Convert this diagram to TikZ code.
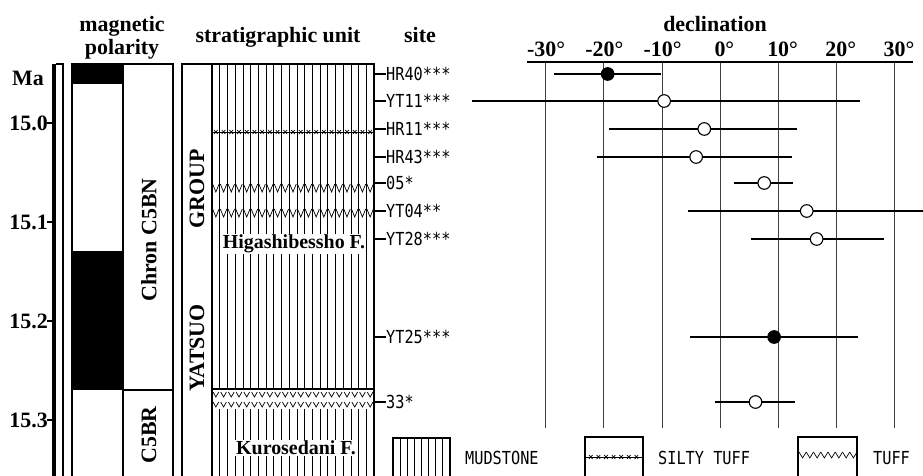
\documentclass[tikz,border=0pt]{standalone}
\usepackage{fontspec}
\setmainfont{Liberation Serif}
\newfontfamily\sitefont[FakeStretch=0.85]{DejaVu Sans Mono}
\usetikzlibrary{calc}
\def\decx#1{720+5.82*(#1)}
\def\mudx#1{212+7.714*(#1)}
\tikzset{
	lbl/.style={font=\bfseries\fontsize{22}{24}\selectfont, inner sep=0pt},
	unitlbl/.style={font=\bfseries\fontsize{20}{22}\selectfont, fill=white, inner sep=1bp},
	site/.style={font=\sitefont\fontsize{18}{20}\selectfont, anchor=west, inner sep=0pt},
	frame/.style={line width=1.2bp},
	gridline/.style={line width=0.6bp, color=black!75},
	bar/.style={line width=1.1bp},
	pat/.style={line width=0.7bp},
}

\begin{document}
\begin{tikzpicture}[x=1bp, y=-1bp]
			%%%%% START %%%%%
			\useasboundingbox (0, 0) rectangle (923, 476);
			
			% headings
			\node[lbl, anchor=base] (magn) at (122, 32) {magnetic};
			\node[lbl, anchor=base] (pola) at (122, 55) {polarity};
			\node[lbl, anchor=base] (strat) at (278, 43) {stratigraphic unit};
			\node[lbl, anchor=base] (site) at (420, 43) {site};
			\node[lbl, anchor=base] (decl) at (715, 32) {declination};
			
			% age scale
			\fill (52, 64) rectangle (56, 476);
			\draw[frame] (56, 64) -- (63, 64) -- (63, 477);
			\node[lbl, anchor=east] (ma) at (44, 78) {Ma};
			\foreach \a/\y in {15.0/123, 15.1/222, 15.2/321, 15.3/420} {
				\draw[line width=1.5bp] (47, \y) -- (53, \y);
				\node[lbl, anchor=east] (age\y) at (48, \y) {\a};
			}
			
			% magnetic polarity
			\draw[frame] (72, 477) -- (72, 64) -- (173, 64) -- (173, 477);
			\draw[frame] (123, 64) -- (123, 477);
			\fill (72, 64) rectangle (123, 84);
			\fill (72, 251) rectangle (123, 390);
			\draw[frame] (123, 390) -- (173, 390);
			\node[lbl, rotate=90] (c5bn) at (149, 240) {Chron C5BN};
			\node[lbl, rotate=90] (c5br) at (149, 435) {C5BR};
			
			% stratigraphic column
			\foreach \i in {1,...,20} {
				\draw[pat] ({\mudx{\i}}, 64) -- ({\mudx{\i}}, 389);
				\draw[pat] ({\mudx{\i}}, 409) -- ({\mudx{\i}}, 477);
			}
			\draw[pat] (212, 132) -- (374, 132);
			\foreach \i in {0,...,20} {
				\draw[pat] ({\mudx{\i+0.5}-1.8}, 130) -- ({\mudx{\i+0.5}+1.8}, 134);
				\draw[pat] ({\mudx{\i+0.5}-1.8}, 134) -- ({\mudx{\i+0.5}+1.8}, 130);
				\draw[pat] ({\mudx{\i}+0.6}, 184) -- ({\mudx{\i+0.5}}, 192) -- ({\mudx{\i+1}-0.6}, 184);
				\draw[pat] ({\mudx{\i}+0.6}, 209) -- ({\mudx{\i+0.5}}, 217) -- ({\mudx{\i+1}-0.6}, 209);
				\draw[pat] ({\mudx{\i}+1}, 392) -- ({\mudx{\i+0.5}}, 397) -- ({\mudx{\i+1}-1}, 392);
				\draw[pat] ({\mudx{\i}+1}, 402) -- ({\mudx{\i+0.5}}, 407) -- ({\mudx{\i+1}-1}, 402);
			}
			\draw[frame] (212, 389) -- (374, 389);
			\draw[frame] (182, 477) -- (182, 64) -- (374, 64) -- (374, 477);
			\draw[frame] (212, 64) -- (212, 477);
			\node[lbl, rotate=90] (grp) at (197, 189) {GROUP};
			\node[lbl, rotate=90] (yat) at (197, 348) {YATSUO};
			\node[unitlbl] (higa) at (294, 244) {Higashibessho F.};
			\node[unitlbl] (kuro) at (296, 448) {Kurosedani F.};
			
			% declination axis
			\foreach \d in {-30,-20,...,30}
				\draw[gridline] ({\decx{\d}}, 62) -- ({\decx{\d}}, 428);
			\draw[line width=2bp] (527, 62) -- (913, 62);
			\foreach \d/\t in {-30/{\llap{-}30}, -20/{\llap{-}20}, -10/{\llap{-}10}, 0/0, 10/10, 20/20, 30/30}
				\node[lbl, anchor=base] (tick\d) at ({\decx{\d}}, 57) {\t\rlap{\textdegree}};
			
			% sites and directions
			\foreach \n/\y/\d/\lo/\hi/\f in {HR40***/74/-19.3/-28.5/-10.1/black, YT11***/101/-9.6/-42.6/24/white,
					HR11***/129/-2.7/-19/13.2/white, HR43***/157/-4.1/-21.1/12.4/white, 05*/183/7.6/2.4/12.5/white,
					YT04**/211/14.9/-5.5/36/white, YT28***/239/16.6/5.3/28.2/white, YT25***/337/9.3/-5.1/23.7/black,
					33*/402/6.1/-0.9/12.9/white} {
				\draw[frame] (374, \y) -- (386, \y);
				\node[site] (s\y) at (386, \y) {\n};
				\draw[bar] ({\decx{\lo}}, \y) -- ({\decx{\hi}}, \y);
				\draw[bar, fill=\f] ({\decx{\d}}, \y) circle (6.3bp);
			}
			
			% legend
			\draw[frame] (393, 477) -- (393, 438) -- (450, 438) -- (450, 477);
			\foreach \k in {1,...,7}
				\draw[pat] ({393+7.1*\k}, 438) -- ({393+7.1*\k}, 477);
			\node[site] (mud) at (465, 458) {MUDSTONE};
			
			\draw[frame] (585, 477) -- (585, 437) -- (643, 437) -- (643, 477);
			\draw[pat] (585, 457) -- (643, 457);
			\foreach \k in {0,...,6} {
				\draw[pat] ({589+7.6*\k}, 455) -- ({592.6+7.6*\k}, 459);
				\draw[pat] ({589+7.6*\k}, 459) -- ({592.6+7.6*\k}, 455);
			}
			\node[site] (silt) at (658, 458) {SILTY TUFF};
			
			\draw[frame] (798, 477) -- (798, 437) -- (857, 437) -- (857, 477);
			\foreach \k in {0,...,7}
				\draw[pat] ({799+7.25*\k}, 452) -- ({802.6+7.25*\k}, 458) -- ({806.2+7.25*\k}, 452);
			\node[site] (tuff) at (873, 458) {TUFF};
			
			%%%%% END %%%%%
\end{tikzpicture}
\end{document}
